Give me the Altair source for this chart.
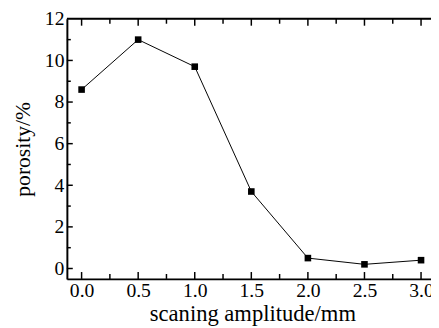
import altair as alt
import pandas as pd

amplitude = [0.0, 0.5, 1.0, 1.5, 2.0, 2.5, 3.0]
porosity = [8.6, 11.0, 9.7, 3.7, 0.5, 0.2, 0.4]

x_major = [0.0, 0.5, 1.0, 1.5, 2.0, 2.5, 3.0]
x_minor = [0.25, 0.75, 1.25, 1.75, 2.25, 2.75]
y_major = [0, 2, 4, 6, 8, 10]
y_minor = [1, 3, 5, 7, 9, 11]

W, H = 371, 265
FONT = "Liberation Serif"

df = pd.DataFrame({"a": amplitude, "p": porosity})
xs = alt.Scale(domain=[-0.13, 3.088], nice=False, zero=False)
ys = alt.Scale(domain=[-0.5, 12], nice=False, zero=False)

xaxis = alt.Axis(
    title="scaning amplitude/mm", values=x_major, format=".1f",
    domain=True, domainColor="black", domainWidth=2, ticks=False, grid=False,
    labelFont=FONT, labelFontSize=20, labelColor="black", labelPadding=2,
    labelFlush=False, labelOverlap=False,
    titleFont=FONT, titleFontSize=23, titleFontWeight="normal", titleColor="black",
    titleX=189, titleY=42, titleBaseline="alphabetic")
yaxis = alt.Axis(
    title="porosity/%", values=y_major + [12], format="d",
    domain=True, domainColor="black", domainWidth=2, ticks=False, grid=False,
    labelFont=FONT, labelFontSize=20, labelColor="black", labelPadding=3,
    labelFlush=False, labelOverlap=False, labelBaseline="middle",
    titleFont=FONT, titleFontSize=22, titleFontWeight="normal", titleColor="black",
    titleX=-45, titleY=H / 2, titleAngle=-90, titleBaseline="middle",
    titleAlign="center")

base = alt.Chart(df)

line = base.mark_line(color="black", strokeWidth=1).encode(
    x=alt.X("a:Q", scale=xs, axis=xaxis),
    y=alt.Y("p:Q", scale=ys, axis=yaxis),
)

points = base.mark_point(shape="square", filled=True, color="black", size=45, opacity=1).encode(
    x=alt.X("a:Q", scale=xs, axis=xaxis),
    y=alt.Y("p:Q", scale=ys, axis=yaxis),
)

def vticks(vals, y0, y1):
    return alt.Chart(pd.DataFrame({"a": vals})).mark_rule(color="black", strokeWidth=1.5).encode(
        x=alt.X("a:Q", scale=xs, axis=xaxis), y=alt.value(y0), y2=alt.value(y1))

def hticks(vals, x0, x1):
    return alt.Chart(pd.DataFrame({"p": vals})).mark_rule(color="black", strokeWidth=1.5).encode(
        y=alt.Y("p:Q", scale=ys, axis=yaxis), x=alt.value(x0), x2=alt.value(x1))

top_border = alt.Chart(pd.DataFrame({"v": [0]})).mark_rule(color="black", strokeWidth=2).encode(
    x=alt.value(0), x2=alt.value(W), y=alt.value(0))

chart = alt.layer(
    line,
    points,
    vticks(x_major, H, H - 7),
    vticks(x_minor, H, H - 5),
    vticks(x_major, 0, 7),
    vticks(x_minor, 0, 5),
    hticks(y_major, 0, 6),
    hticks(y_minor, 0, 4),
    top_border,
).properties(
    width=W, height=H,
    autosize=alt.AutoSizeParams(type="none"),
    padding={"left": 60, "top": 8, "right": 0, "bottom": 47},
).configure_view(stroke=None).configure(background="white")

chart.save("out.html", embed_options={"renderer": "svg", "actions": False})
